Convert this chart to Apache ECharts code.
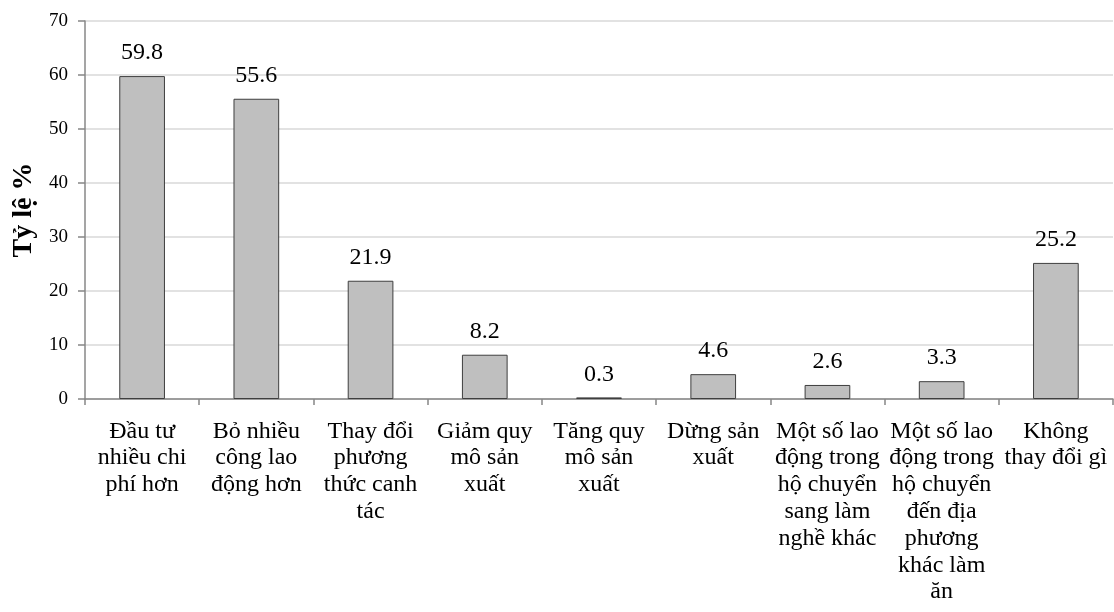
<!DOCTYPE html>
<html>
<head>
<meta charset="utf-8">
<script src="https://cdn.jsdelivr.net/npm/echarts@6/dist/echarts.min.js"></script>
<style>
  html, body { margin: 0; padding: 0; background: #fff; }
  #chart { width: 1114px; height: 612px; }
</style>
</head>
<body>
<div id="chart"></div>
<script>
// Categories of change in household production (wrapped labels)
const categories = [
  'Đầu tư\nnhiều chi\nphí hơn',
  'Bỏ nhiều\ncông lao\nđộng hơn',
  'Thay đổi\nphương\nthức canh\ntác',
  'Giảm quy\nmô sản\nxuất',
  'Tăng quy\nmô sản\nxuất',
  'Dừng sản\nxuất',
  'Một số lao\nđộng trong\nhộ chuyển\nsang làm\nnghề khác',
  'Một số lao\nđộng trong\nhộ chuyển\nđến địa\nphương\nkhác làm\năn',
  'Không\nthay đổi gì'
];
// Share of households (%)
const values = [59.8, 55.6, 21.9, 8.2, 0.3, 4.6, 2.6, 3.3, 25.2];
// Y axis range
const yMin = 0, yMax = 70, yStep = 10;
const yTitle = 'Tỷ lệ %';

const serif = '"Liberation Serif", "DejaVu Serif", serif';
const chart = echarts.init(document.getElementById('chart'));
chart.setOption({
  animation: false,
  grid: { left: 85, right: 1, top: 21, bottom: 213 },
  xAxis: {
    type: 'category',
    data: categories,
    axisLine: { lineStyle: { color: '#878787', width: 1.5 } },
    axisTick: { show: true, length: 6, alignWithLabel: false, lineStyle: { color: '#878787', width: 1.5 } },
    axisLabel: {
      interval: 0,
      margin: 19,
      color: '#000',
      fontFamily: serif,
      fontSize: 24,
      lineHeight: 26.8,
      align: 'center'
    }
  },
  yAxis: {
    type: 'value',
    min: yMin, max: yMax, interval: yStep,
    name: yTitle,
    nameLocation: 'middle',
    nameGap: 38,
    nameRotate: 90,
    nameTextStyle: { fontFamily: serif, fontSize: 28, fontWeight: 'bold', color: '#000' },
    axisLine: { show: true, lineStyle: { color: '#878787', width: 1.5 } },
    axisTick: { show: true, length: 7, lineStyle: { color: '#878787', width: 1.5 } },
    axisLabel: { margin: 17, color: '#000', fontFamily: serif, fontSize: 19 },
    splitLine: { lineStyle: { color: '#d9d9d9', width: 1.5 } }
  },
  series: [{
    type: 'bar',
    data: values,
    barWidth: '40%',
    itemStyle: { color: '#bfbfbf', borderColor: '#3f3f3f', borderWidth: 1 },
    label: {
      show: true,
      position: 'top',
      distance: 11,
      color: '#000',
      fontFamily: serif,
      fontSize: 24,
      formatter: p => p.value.toFixed(1)
    }
  }]
});
</script>
</body>
</html>
